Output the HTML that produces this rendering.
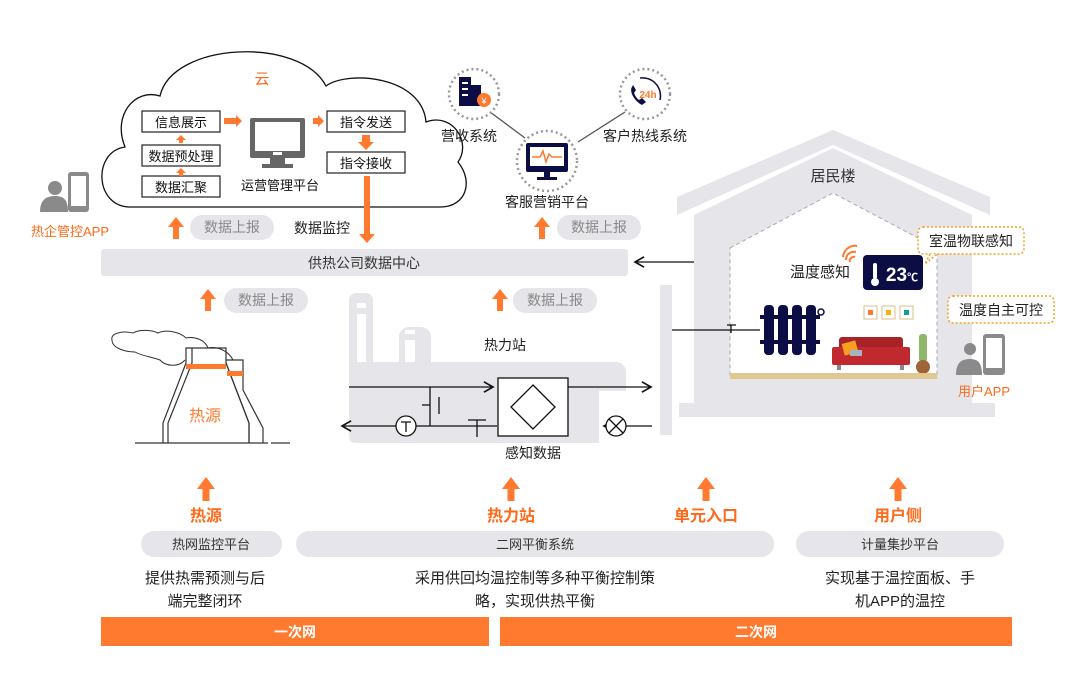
<!DOCTYPE html>
<html><head><meta charset="utf-8"><style>
html,body{margin:0;padding:0;background:#fff;}
svg text{font-family:"Liberation Sans","Noto Sans CJK SC",sans-serif;}
</style></head><body>
<svg width="1080" height="695" viewBox="0 0 1080 695" xmlns="http://www.w3.org/2000/svg">
<defs>
<marker id="ah" markerWidth="10" markerHeight="10" refX="8" refY="5" orient="auto"><path d="M1,1 L8,5 L1,9" fill="none" stroke="#111" stroke-width="1.3"/></marker>
<g id="up"><path d="M0,-11 L-8,-1 L-3,-1 L-3,11 L3,11 L3,-1 L8,-1 Z" fill="#ff7a2f"/></g>
<g id="upB"><path d="M0,-12 L-9,0 L-3.5,0 L-3.5,12 L3.5,12 L3.5,0 L9,0 Z" fill="#ff7a2f"/></g>
</defs>

<!-- Cloud -->
<path d="M130,207 C95,207 92,152 125,147 C112,115 135,88 160,96 C172,42 300,36 326,86 C348,70 422,76 426,122 C452,112 472,142 458,162 C474,182 466,207 440,207 Z" fill="#fff" stroke="#111" stroke-width="1.3"/>
<text x="262" y="84" font-size="15" fill="#ff6a1a" text-anchor="middle">云</text>
<g font-size="13" fill="#111" text-anchor="middle">
<rect x="142" y="111" width="78" height="21" fill="#fff" stroke="#222" stroke-width="1.2"/><text x="181" y="127">信息展示</text>
<rect x="142" y="145" width="78" height="21" fill="#fff" stroke="#222" stroke-width="1.2"/><text x="181" y="161">数据预处理</text>
<rect x="142" y="176" width="78" height="21" fill="#fff" stroke="#222" stroke-width="1.2"/><text x="181" y="192">数据汇聚</text>
<rect x="327" y="111" width="78" height="21" fill="#fff" stroke="#222" stroke-width="1.2"/><text x="366" y="127">指令发送</text>
<rect x="327" y="152" width="78" height="21" fill="#fff" stroke="#222" stroke-width="1.2"/><text x="366" y="168">指令接收</text>
<text x="280" y="190">运营管理平台</text>
</g>
<path d="M181,135 l-5,5 h3 v3 h4 v-3 h3z M181,168 l-5,5 h3 v3 h4 v-3 h3z" fill="#ff7a2f"/>
<path d="M224,118 h12 v-3 l6,6 l-6,6 v-3 h-12z M313,118 h5 v-3 l6,6 l-6,6 v-3 h-5z" fill="#ff7a2f"/>
<path d="M362,135 h8 v7 h4 l-8,8 l-8,-8 h4z" fill="#ff7a2f"/>
<rect x="250" y="118" width="55" height="40" rx="2" fill="#666"/>
<rect x="255" y="122" width="45" height="29" fill="#fff"/>
<rect x="273" y="152" width="9" height="3" fill="#fff"/>
<rect x="270" y="158" width="15" height="6" fill="#666"/><rect x="262" y="164" width="31" height="4" fill="#666"/>
<rect x="364" y="176" width="6" height="58" fill="#ff7a2f"/><path d="M359,234 h16 l-8,9z" fill="#ff7a2f"/>
<text x="322" y="233" font-size="14" fill="#222" text-anchor="middle">数据监控</text>

<circle cx="55" cy="188" r="7" fill="#8a8a8a"/><path d="M40,212 c0,-12 6,-16 15,-16 c9,0 13,4 13,16z" fill="#8a8a8a"/>
<rect x="68" y="172" width="21" height="40" rx="3" fill="#8a8a8a"/><rect x="71" y="176" width="15" height="30" fill="#fff"/>
<text x="70" y="236" font-size="13" fill="#ff6a1a" text-anchor="middle">热企管控APP</text>

<g font-size="14" fill="#888" text-anchor="middle">
<rect x="190" y="215" width="84" height="25" rx="12.5" fill="#e6e6ea"/><text x="232" y="232">数据上报</text>
<rect x="557" y="215" width="84" height="25" rx="12.5" fill="#e6e6ea"/><text x="599" y="232">数据上报</text>
<rect x="224" y="288" width="84" height="25" rx="12.5" fill="#e6e6ea"/><text x="266" y="305">数据上报</text>
<rect x="513" y="288" width="84" height="25" rx="12.5" fill="#e6e6ea"/><text x="555" y="305">数据上报</text>
</g>
<use href="#up" x="176" y="228"/><use href="#up" x="542" y="228"/><use href="#up" x="208" y="300"/><use href="#up" x="500" y="300"/>

<rect x="101" y="249" width="527" height="27" rx="3" fill="#e6e6ea"/>
<text x="364" y="268" font-size="14" fill="#333" text-anchor="middle">供热公司数据中心</text>
<line x1="715" y1="262" x2="635" y2="262" stroke="#111" stroke-width="1.3" marker-end="url(#ah)"/>

<line x1="490" y1="112" x2="525" y2="138" stroke="#555" stroke-width="1.3"/>
<line x1="578" y1="142" x2="625" y2="112" stroke="#555" stroke-width="1.3"/>
<circle cx="474" cy="94" r="25" fill="#fff" stroke="#999" stroke-width="2.5" stroke-dasharray="2 3"/>
<circle cx="645" cy="94" r="25" fill="#fff" stroke="#999" stroke-width="2.5" stroke-dasharray="2 3"/>
<circle cx="547" cy="161" r="30" fill="#fff" stroke="#999" stroke-width="2.5" stroke-dasharray="2 3"/>
<rect x="459" y="77" width="12" height="29" fill="#0d0d45"/><rect x="471" y="85" width="10" height="21" fill="#0d0d45"/>
<rect x="462" y="82" width="6" height="2" fill="#fff"/><rect x="462" y="88" width="6" height="2" fill="#fff"/><rect x="462" y="94" width="6" height="2" fill="#fff"/>
<circle cx="484" cy="100" r="7" fill="#ff7a2f"/><text x="484" y="104" font-size="9" fill="#fff" text-anchor="middle">¥</text>
<path d="M632,87 c-3,4 2,14 10,18 l4,-3 l-4,-4 l-3,2 c-3,-2 -4,-5 -5,-7 l2,-3 l-3,-5z" fill="#0d0d45"/>
<path d="M640,78 a18,18 0 0 1 20,22" fill="none" stroke="#0d0d45" stroke-width="1.5"/>
<text x="648" y="98" font-size="10" fill="#ff7a2f" font-weight="bold" text-anchor="middle">24h</text>
<rect x="526" y="143" width="42" height="29" rx="2" fill="#0d0d45"/><rect x="530" y="147" width="34" height="19" fill="#fff"/>
<polyline points="532,157 540,157 543,151 546,162 549,154 552,157 562,157" fill="none" stroke="#ff7a2f" stroke-width="1.5"/>
<rect x="544" y="172" width="6" height="5" fill="#0d0d45"/><rect x="537" y="177" width="20" height="3" fill="#0d0d45"/>
<g font-size="14" fill="#222" text-anchor="middle">
<text x="469" y="141">营收系统</text><text x="645" y="141">客户热线系统</text><text x="547" y="207">客服营销平台</text>
</g>

<!-- heat source plant -->
<path d="M112,340 C110,332 125,331 133,333 C140,329 152,330 158,333 C166,329 180,332 186,338 C195,336 205,340 208,348 C216,346 228,350 233,360 M112,340 C112,348 125,352 135,352 C142,356 152,357 160,360 C165,366 178,368 185,360" fill="none" stroke="#333" stroke-width="1"/>
<g fill="none" stroke="#333" stroke-width="1.2">
<path d="M163,443 v-20 l23,-60 v-15 h40 v15 l23,60 v20"/>
<path d="M168,443 v-20 l24,-60 v-15"/>
<path d="M226,360 h17 v30 l20,38 v15"/>
<path d="M226,363 l23,60 v20"/>
<line x1="135" y1="443" x2="268" y2="443"/><line x1="271" y1="443" x2="290" y2="443"/>
</g>
<rect x="186" y="364" width="40" height="5" fill="#ff7a2f"/><rect x="227" y="371" width="16" height="5" fill="#ff7a2f"/>
<text x="205" y="421" font-size="16" fill="#ff7a2f" text-anchor="middle">热源</text>

<!-- heat station background -->
<g fill="#e6e6ea">
<path d="M349,437 v-137 a7,7 0 0 1 7,-7 h10 a7,7 0 0 1 7,7 v62 h26 v-25 a10,10 0 0 1 10,-10 h12 a10,10 0 0 1 10,10 v25 h185 a10,10 0 0 1 10,10 v65 a6,6 0 0 1 -6,6 h-265 a6,6 0 0 1 -6,-6z"/>
<rect x="660" y="285" width="12" height="150"/>
</g>
<rect x="357" y="303" width="9" height="5" fill="#fff"/><rect x="357" y="314" width="9" height="48" fill="#fff"/>
<rect x="405" y="330" width="10" height="4" fill="#fff"/><rect x="405" y="340" width="10" height="22" fill="#fff"/>
<rect x="599" y="391" width="30" height="52" fill="#fff"/>
<text x="505" y="350" font-size="14" fill="#222" text-anchor="middle">热力站</text>
<g stroke="#111" stroke-width="1.3" fill="none">
<line x1="349" y1="387" x2="493" y2="387" marker-end="url(#ah)"/>
<line x1="568" y1="387" x2="651" y2="387" marker-end="url(#ah)"/>
<line x1="497" y1="426" x2="342" y2="426" marker-end="url(#ah)"/>
<line x1="652" y1="426" x2="604" y2="426" marker-end="url(#ah)"/>
<line x1="430" y1="387" x2="430" y2="426"/>
<line x1="422" y1="405" x2="430" y2="405"/><line x1="439" y1="397" x2="439" y2="414"/>
<line x1="468" y1="420" x2="486" y2="420"/><line x1="477" y1="420" x2="477" y2="437"/>
</g>
<circle cx="406" cy="426" r="10" fill="#fff" stroke="#111" stroke-width="1.3"/>
<path d="M401,422 h10 M406,422 v10" stroke="#111" stroke-width="1.3"/>
<circle cx="616" cy="426" r="10" fill="#fff" stroke="#111" stroke-width="1.3"/>
<path d="M609,419 l14,14 M623,419 l-14,14" stroke="#111" stroke-width="1.3"/>
<rect x="498" y="378" width="70" height="58" fill="#fff" stroke="#111" stroke-width="1.3"/>
<path d="M533,385 l22,22 l-22,22 l-22,-22z" fill="none" stroke="#111" stroke-width="1.3"/>
<text x="533" y="458" font-size="14" fill="#222" text-anchor="middle">感知数据</text>

<!-- house -->
<polygon points="677,197 833,130 990,197 990,215 833,145 677,215" fill="#e6e6ea"/>
<polygon points="694,215 833,148 972,215 972,403 995,403 995,417 679,417 679,403 694,403" fill="#e6e6ea"/>
<polygon points="730,248 833,193 937,248 937,378 730,378" fill="#fff" stroke="#aaa" stroke-width="1" stroke-dasharray="4 3"/>
<text x="833" y="181" font-size="15" fill="#333" text-anchor="middle">居民楼</text>
<line x1="672" y1="330" x2="760" y2="330" stroke="#111" stroke-width="1.3"/>
<path d="M727,325 h9 M731,325 v8" stroke="#111" stroke-width="1.3"/>
<g fill="#0d0d45">
<rect x="764" y="305" width="10" height="50" rx="4"/><rect x="778" y="305" width="10" height="50" rx="4"/><rect x="792" y="305" width="10" height="50" rx="4"/><rect x="806" y="305" width="10" height="50" rx="4"/>
<rect x="760" y="315" width="60" height="4"/><rect x="760" y="340" width="60" height="4"/>
</g>
<circle cx="821" cy="312" r="3" fill="none" stroke="#0d0d45" stroke-width="1.5"/>
<path d="M843,257 a12,12 0 0 1 14,-11 M846,260 a8,8 0 0 1 10,-8 M850,262 a4,4 0 0 1 5,-5" fill="none" stroke="#ff7a2f" stroke-width="2"/>
<rect x="863" y="255" width="60" height="35" rx="4" fill="#0d0d45"/>
<rect x="873" y="263" width="4" height="16" rx="2" fill="#fff"/><circle cx="875" cy="282" r="4" fill="#fff"/>
<text x="902" y="281" font-size="19" font-weight="bold" fill="#fff" text-anchor="middle">23<tspan font-size="11">℃</tspan></text>
<text x="820" y="277" font-size="15" fill="#222" text-anchor="middle">温度感知</text>
<rect x="864" y="306" width="13" height="13" fill="#fff" stroke="#d8c08a"/><rect x="868" y="310" width="5" height="5" fill="#ff7a2f"/>
<rect x="882" y="306" width="13" height="13" fill="#fff" stroke="#d8c08a"/><rect x="886" y="310" width="5" height="5" fill="#f5b400"/>
<rect x="900" y="306" width="13" height="13" fill="#fff" stroke="#d8c08a"/><rect x="904" y="310" width="5" height="5" fill="#12a09a"/>
<rect x="839" y="337" width="64" height="24" rx="3" fill="#a82328"/>
<rect x="832" y="347" width="78" height="18" rx="2" fill="#c02a2f"/>
<rect x="843" y="342" width="14" height="12" fill="#f5a020" transform="rotate(-15 850 348)"/>
<rect x="850" y="350" width="12" height="6" fill="#a6b4c0"/>
<rect x="837" y="365" width="4" height="5" fill="#888"/><rect x="900" y="365" width="4" height="5" fill="#888"/>
<rect x="919" y="334" width="8" height="28" rx="3" fill="#8db86a"/><circle cx="923" cy="367" r="7" fill="#a0643a"/>
<rect x="730" y="373" width="207" height="6" fill="#e0c890"/>
<g font-size="14" fill="#222" text-anchor="middle">
<rect x="918" y="227" width="106" height="27" rx="5" fill="#fff" stroke="#f5a020" stroke-width="1.5" stroke-dasharray="2 2"/>
<path d="M930,254 l-5,10 l12,-10" fill="#fff" stroke="#f5a020" stroke-width="1.5" stroke-dasharray="2 2"/>
<text x="971" y="246">室温物联感知</text>
<rect x="948" y="296" width="106" height="27" rx="5" fill="#fff" stroke="#f5a020" stroke-width="1.5" stroke-dasharray="2 2"/>
<text x="1001" y="315">温度自主可控</text>
</g>
<circle cx="970" cy="349" r="6" fill="#8a8a8a"/><path d="M956,375 c0,-12 5,-16 14,-16 c8,0 12,4 12,16z" fill="#8a8a8a"/>
<rect x="983" y="334" width="22" height="41" rx="3" fill="#8a8a8a"/><rect x="986" y="338" width="16" height="30" fill="#fff"/>
<text x="984" y="396" font-size="13" fill="#ff6a1a" text-anchor="middle">用户APP</text>

<use href="#upB" x="206" y="489"/><use href="#upB" x="511" y="489"/><use href="#upB" x="706" y="489"/><use href="#upB" x="898" y="489"/>
<g font-size="16" font-weight="bold" fill="#ff6a1a" text-anchor="middle">
<text x="206" y="521">热源</text><text x="511" y="521">热力站</text><text x="706" y="521">单元入口</text><text x="898" y="521">用户侧</text>
</g>
<g font-size="13" fill="#333" text-anchor="middle">
<rect x="141" y="531" width="141" height="26" rx="13" fill="#e6e6ea"/><text x="211" y="549">热网监控平台</text>
<rect x="296" y="531" width="478" height="26" rx="13" fill="#e6e6ea"/><text x="535" y="549">二网平衡系统</text>
<rect x="796" y="531" width="208" height="26" rx="13" fill="#e6e6ea"/><text x="900" y="549">计量集抄平台</text>
</g>
<g font-size="15" fill="#222" text-anchor="middle">
<text x="205" y="583">提供热需预测与后</text><text x="205" y="606">端完整闭环</text>
<text x="535" y="583">采用供回均温控制等多种平衡控制策</text><text x="535" y="606">略，实现供热平衡</text>
<text x="900" y="583">实现基于温控面板、手</text><text x="900" y="606">机APP的温控</text>
</g>
<rect x="101" y="617" width="388" height="29" fill="#ff7a2f"/>
<rect x="500" y="617" width="512" height="29" fill="#ff7a2f"/>
<g font-size="14" font-weight="bold" fill="#fff" text-anchor="middle">
<text x="295" y="637">一次网</text><text x="756" y="637">二次网</text>
</g>
</svg>
</body></html>
